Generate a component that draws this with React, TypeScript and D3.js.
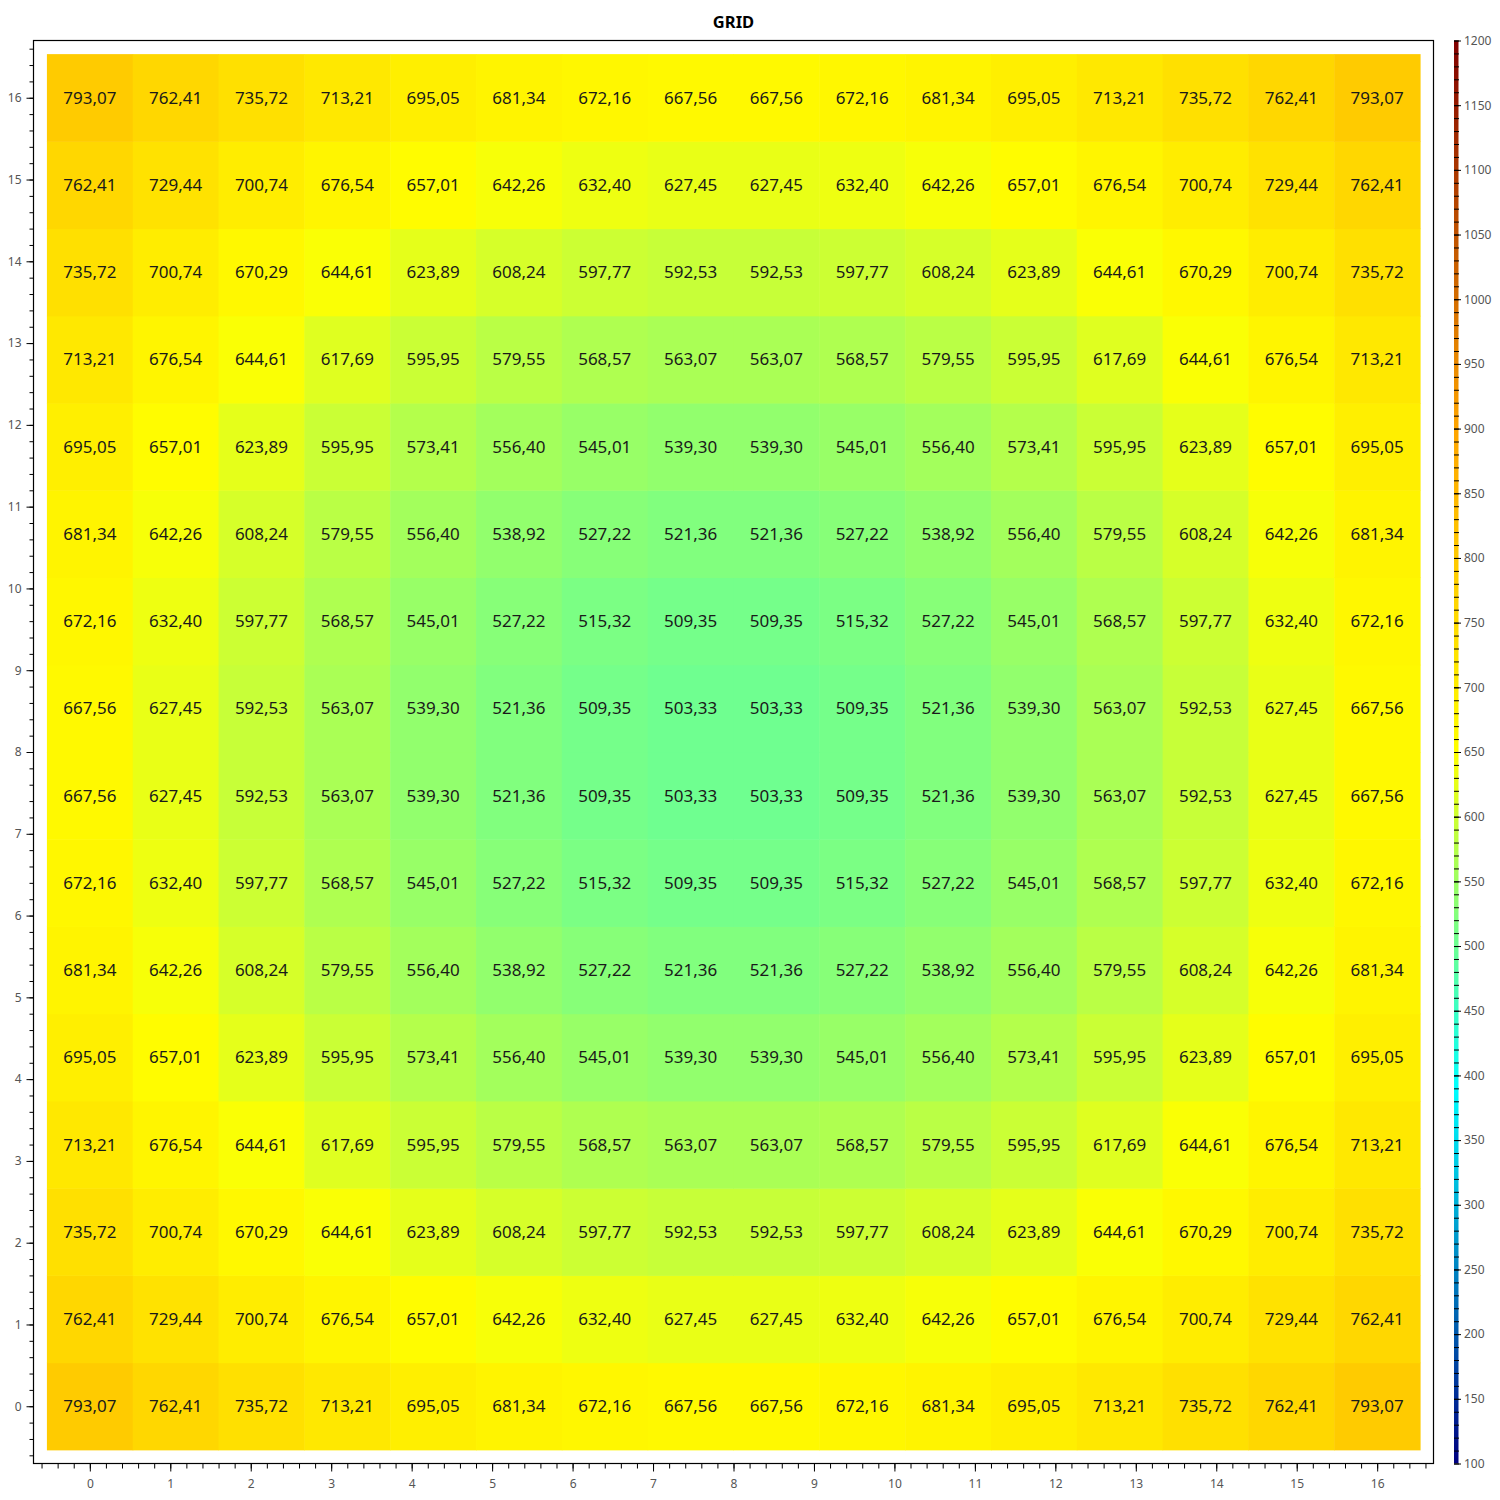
import React, { useEffect, useRef } from "react";
import * as d3 from "d3";

// heat grid values, row 0 = bottom (y = 0)
const gridValues: number[][] = [
  [793.07, 762.41, 735.72, 713.21, 695.05, 681.34, 672.16, 667.56, 667.56, 672.16, 681.34, 695.05, 713.21, 735.72, 762.41, 793.07],
  [762.41, 729.44, 700.74, 676.54, 657.01, 642.26, 632.4, 627.45, 627.45, 632.4, 642.26, 657.01, 676.54, 700.74, 729.44, 762.41],
  [735.72, 700.74, 670.29, 644.61, 623.89, 608.24, 597.77, 592.53, 592.53, 597.77, 608.24, 623.89, 644.61, 670.29, 700.74, 735.72],
  [713.21, 676.54, 644.61, 617.69, 595.95, 579.55, 568.57, 563.07, 563.07, 568.57, 579.55, 595.95, 617.69, 644.61, 676.54, 713.21],
  [695.05, 657.01, 623.89, 595.95, 573.41, 556.4, 545.01, 539.3, 539.3, 545.01, 556.4, 573.41, 595.95, 623.89, 657.01, 695.05],
  [681.34, 642.26, 608.24, 579.55, 556.4, 538.92, 527.22, 521.36, 521.36, 527.22, 538.92, 556.4, 579.55, 608.24, 642.26, 681.34],
  [672.16, 632.4, 597.77, 568.57, 545.01, 527.22, 515.32, 509.35, 509.35, 515.32, 527.22, 545.01, 568.57, 597.77, 632.4, 672.16],
  [667.56, 627.45, 592.53, 563.07, 539.3, 521.36, 509.35, 503.33, 503.33, 509.35, 521.36, 539.3, 563.07, 592.53, 627.45, 667.56],
  [667.56, 627.45, 592.53, 563.07, 539.3, 521.36, 509.35, 503.33, 503.33, 509.35, 521.36, 539.3, 563.07, 592.53, 627.45, 667.56],
  [672.16, 632.4, 597.77, 568.57, 545.01, 527.22, 515.32, 509.35, 509.35, 515.32, 527.22, 545.01, 568.57, 597.77, 632.4, 672.16],
  [681.34, 642.26, 608.24, 579.55, 556.4, 538.92, 527.22, 521.36, 521.36, 527.22, 538.92, 556.4, 579.55, 608.24, 642.26, 681.34],
  [695.05, 657.01, 623.89, 595.95, 573.41, 556.4, 545.01, 539.3, 539.3, 545.01, 556.4, 573.41, 595.95, 623.89, 657.01, 695.05],
  [713.21, 676.54, 644.61, 617.69, 595.95, 579.55, 568.57, 563.07, 563.07, 568.57, 579.55, 595.95, 617.69, 644.61, 676.54, 713.21],
  [735.72, 700.74, 670.29, 644.61, 623.89, 608.24, 597.77, 592.53, 592.53, 597.77, 608.24, 623.89, 644.61, 670.29, 700.74, 735.72],
  [762.41, 729.44, 700.74, 676.54, 657.01, 642.26, 632.4, 627.45, 627.45, 632.4, 642.26, 657.01, 676.54, 700.74, 729.44, 762.41],
  [793.07, 762.41, 735.72, 713.21, 695.05, 681.34, 672.16, 667.56, 667.56, 672.16, 681.34, 695.05, 713.21, 735.72, 762.41, 793.07],
];

const axisTicks = [0, 1, 2, 3, 4, 5, 6, 7, 8, 9, 10, 11, 12, 13, 14, 15, 16];
const colorStops = [100, 390, 650, 900, 1200];
const colorRange = ["#000080", "#00ffff", "#ffff00", "#ffa500", "#800000"];
const colorbarTicks = [100, 150, 200, 250, 300, 350, 400, 450, 500, 550, 600, 650, 700, 750, 800, 850, 900, 950, 1000, 1050, 1100, 1150, 1200];

const title = "GRID";

export default function App() {
  const ref = useRef<SVGSVGElement>(null);

  useEffect(() => {
    const svg = d3.select(ref.current);
    svg.selectAll("*").remove();

    const left = 33.5, right = 1433.5, top = 40.5, bottom = 1463.5;
    const x = d3.scaleLinear().domain([-0.7, 16.7]).range([left, right]);
    const y = d3.scaleLinear().domain([-0.7, 16.7]).range([bottom, top]);
    const color = d3.scaleLinear<string>().domain(colorStops).range(colorRange).clamp(true);

    // cells span the grid extent, split evenly
    const nCols = gridValues[0].length;
    const nRows = gridValues.length;
    const gx = d3.scaleLinear().domain([0, nCols]).range([-8 / 15, 16 + 8 / 15]);
    const gy = d3.scaleLinear().domain([0, nRows]).range([-8 / 15, 16 + 8 / 15]);

    const fmt = (v: number) => v.toFixed(2).replace(".", ",");

    const cells = svg.append("g");
    gridValues.forEach((row, r) => {
      row.forEach((v, c) => {
        const x0 = x(gx(c)), x1 = x(gx(c + 1));
        const y0 = y(gy(r + 1)), y1 = y(gy(r));
        cells.append("rect")
          .attr("x", x0).attr("y", y0)
          .attr("width", x1 - x0 + 0.5).attr("height", y1 - y0 + 0.5)
          .attr("fill", color(v));
      });
    });
    gridValues.forEach((row, r) => {
      row.forEach((v, c) => {
        cells.append("text")
          .attr("x", x(gx(c + 0.5)))
          .attr("y", y(gy(r + 0.5)))
          .attr("text-anchor", "middle")
          .attr("dy", "0.35em")
          .attr("font-family", "'Noto Sans', sans-serif")
          .attr("font-size", 17)
          .attr("fill", "#1a1a1a")
          .text(fmt(v));
      });
    });

    // frame
    svg.append("rect")
      .attr("x", left).attr("y", top)
      .attr("width", right - left).attr("height", bottom - top)
      .attr("fill", "none").attr("stroke", "#000").attr("stroke-width", 1.2);

    const minor = d3.range(-6, 167, 2).map(d => d / 10);

    const styleAxis = (g: any) => {
      g.select(".domain").remove();
      g.selectAll("line").attr("stroke", "#000");
      g.selectAll("text")
        .attr("font-family", "'Noto Sans', sans-serif")
        .attr("font-size", 12)
        .attr("fill", "#555");
    };

    svg.append("g").attr("transform", `translate(0,${bottom})`)
      .call(d3.axisBottom(x).tickValues(minor).tickSize(5).tickFormat(() => ""))
      .call(styleAxis);
    svg.append("g").attr("transform", `translate(0,${bottom})`)
      .call(d3.axisBottom(x).tickValues(axisTicks).tickSize(8).tickPadding(8).tickFormat(d3.format("d")))
      .call(styleAxis);

    svg.append("g").attr("transform", `translate(${left},0)`)
      .call(d3.axisLeft(y).tickValues(minor).tickSize(4).tickFormat(() => ""))
      .call(styleAxis);
    svg.append("g").attr("transform", `translate(${left},0)`)
      .call(d3.axisLeft(y).tickValues(axisTicks).tickSize(7).tickPadding(5).tickFormat(d3.format("d")))
      .call(styleAxis);

    // colorbar
    const cb = d3.scaleLinear().domain([100, 1200]).range([bottom, top]);
    const cbX = 1454, cbW = 4.5;
    const defs = svg.append("defs");
    const grad = defs.append("linearGradient").attr("id", "cbGrad")
      .attr("x1", 0).attr("y1", 1).attr("x2", 0).attr("y2", 0);
    colorStops.forEach((s, i) => {
      grad.append("stop")
        .attr("offset", (s - 100) / 1100)
        .attr("stop-color", colorRange[i]);
    });
    svg.append("rect")
      .attr("x", cbX).attr("y", cb(1200))
      .attr("width", cbW).attr("height", cb(100) - cb(1200))
      .attr("fill", "url(#cbGrad)");

    const cbMinor = d3.range(100, 1201, 10);
    svg.append("g").attr("transform", `translate(${cbX},0)`)
      .call(d3.axisRight(cb).tickValues(cbMinor).tickSize(5).tickFormat(() => ""))
      .call(styleAxis);
    svg.append("g").attr("transform", `translate(${cbX},0)`)
      .call(d3.axisRight(cb).tickValues(colorbarTicks).tickSize(7).tickPadding(3).tickFormat(d3.format("d")))
      .call(styleAxis);

    // title
    svg.append("text")
      .attr("x", (left + right) / 2)
      .attr("y", 28)
      .attr("text-anchor", "middle")
      .attr("font-family", "'Noto Sans', sans-serif")
      .attr("font-weight", "bold")
      .attr("font-size", 16.5)
      .attr("fill", "#000")
      .text(title);
  }, []);

  return (
    <svg
      ref={ref}
      width={1500}
      height={1500}
      style={{ position: "absolute", left: 0, top: 0, background: "#fff" }}
    />
  );
}
